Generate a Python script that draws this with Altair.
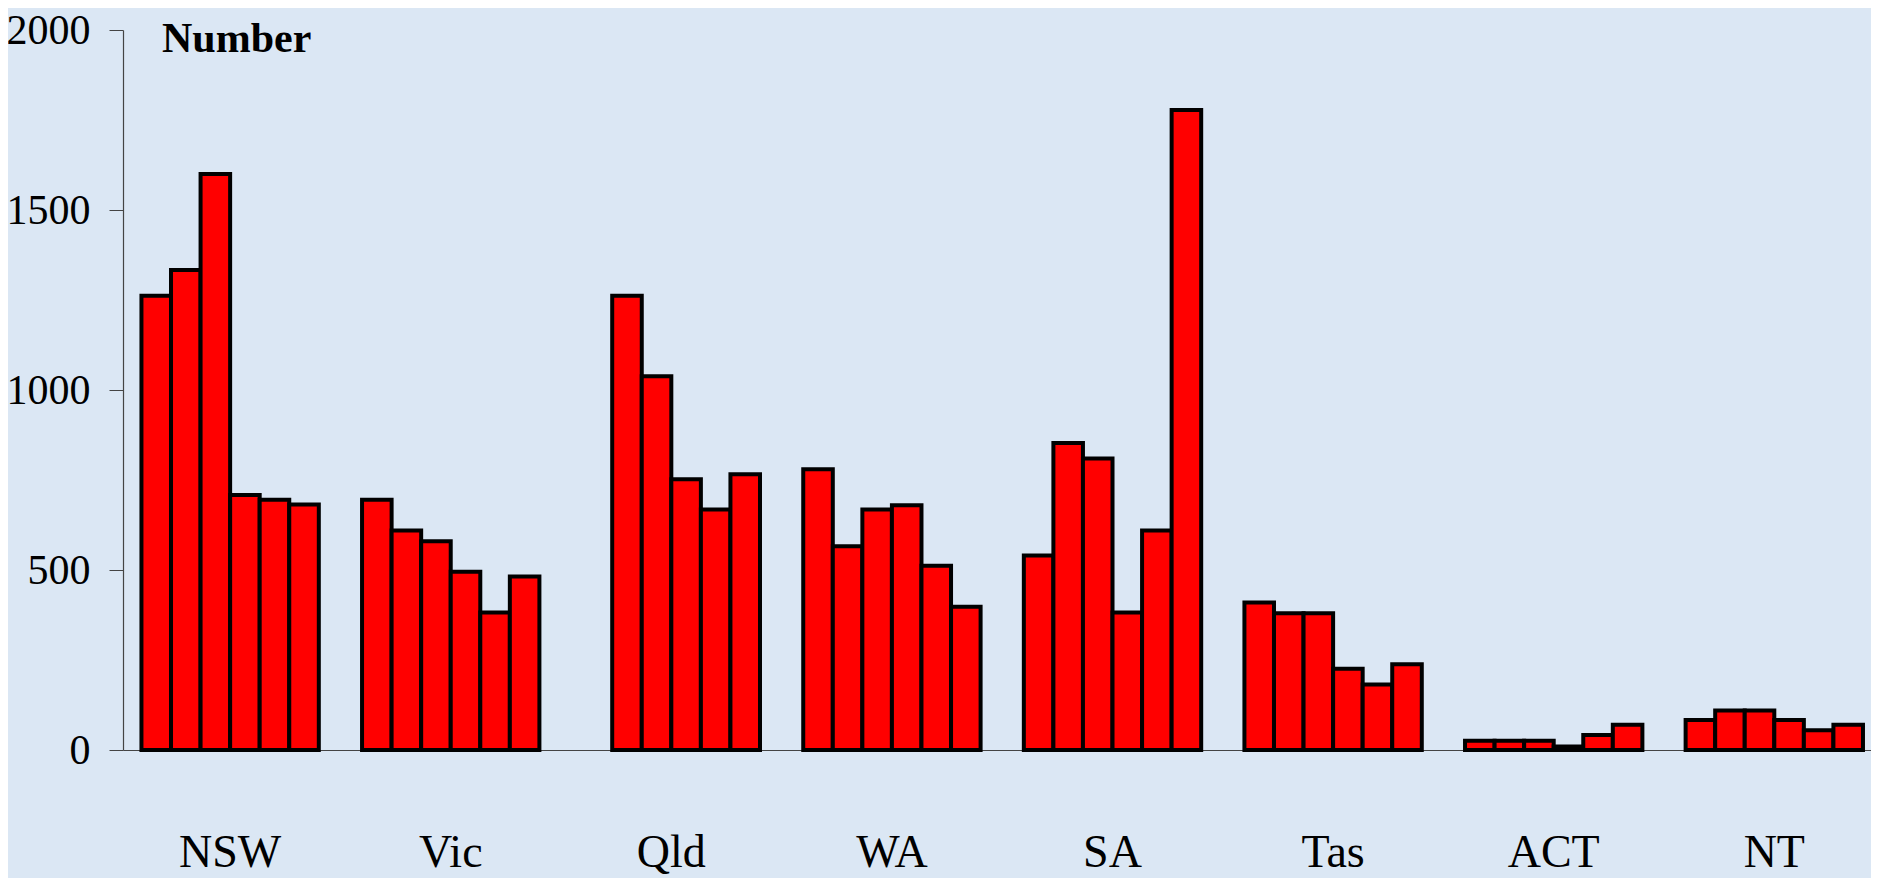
import altair as alt
import pandas as pd

states = ["NSW", "Vic", "Qld", "WA", "SA", "Tas", "ACT", "NT"]
series = ["S1", "S2", "S3", "S4", "S5", "S6"]

nsw = [1262, 1333, 1600, 708, 695, 682]
vic = [695, 610, 580, 495, 382, 482]
qld = [None, 1262, 1038, 752, 668, 766]
wa = [780, 566, 668, 680, 512, 398]
sa = [540, 853, 810, 382, 610, 1778]
tas = [410, 380, 380, 226, 182, 238]
act = [26, 26, 26, 10, 42, 70]
nt = [83, 110, 110, 83, 55, 70]

y_ticks = [0, 500, 1000, 1500, 2000]
title_text = "Number"

values_by_state = [nsw, vic, qld, wa, sa, tas, act, nt]
rows = []
for st, vals in zip(states, values_by_state):
    for s, v in zip(series, vals):
        rows.append({"state": st, "series": s, "value": v})
df = pd.DataFrame(rows)

FONT = "Liberation Serif"

bars = alt.Chart(df).mark_bar(
    color="#ff0000", stroke="#000000", strokeWidth=4
).encode(
    x=alt.X(
        "state:N",
        sort=states,
        scale=alt.Scale(paddingInner=0.196, paddingOuter=0.06, align=0.697),
        axis=alt.Axis(
            title=None, ticks=False, domain=True, domainColor="#444444",
            domainWidth=1.2, labelFont=FONT, labelFontSize=46,
            labelColor="#000000", labelPadding=102, labelBaseline="middle",
            labelAngle=0,
        ),
    ),
    xOffset=alt.XOffset(
        "series:N", sort=series,
        scale=alt.Scale(paddingInner=0, paddingOuter=0),
    ),
    y=alt.Y(
        "value:Q",
        scale=alt.Scale(domain=[0, 2000], nice=False),
        axis=alt.Axis(
            title=None, values=y_ticks, format="d", grid=False, tickSize=14,
            tickColor="#444444", domainColor="#444444", domainWidth=1.2,
            labelFont=FONT, labelFontSize=42, labelColor="#000000",
            labelPadding=19, labelBaseline="middle",
        ),
    ),
)

title = alt.Chart(pd.DataFrame({"label": [title_text]})).mark_text(
    align="left", baseline="alphabetic", font=FONT, fontSize=42,
    fontWeight="bold", color="#000000",
).encode(
    x=alt.value(39), y=alt.value(22), text="label:N"
)

chart = alt.layer(bars, title).properties(
    width=1748, height=720,
    autosize=alt.AutoSizeParams(type="none"),
    padding={"left": 115, "top": 22, "right": 0, "bottom": 128},
    background="#dbe7f4",
).configure_view(stroke=None)

chart.save("out.html", embed_options={"renderer": "svg", "actions": False})
